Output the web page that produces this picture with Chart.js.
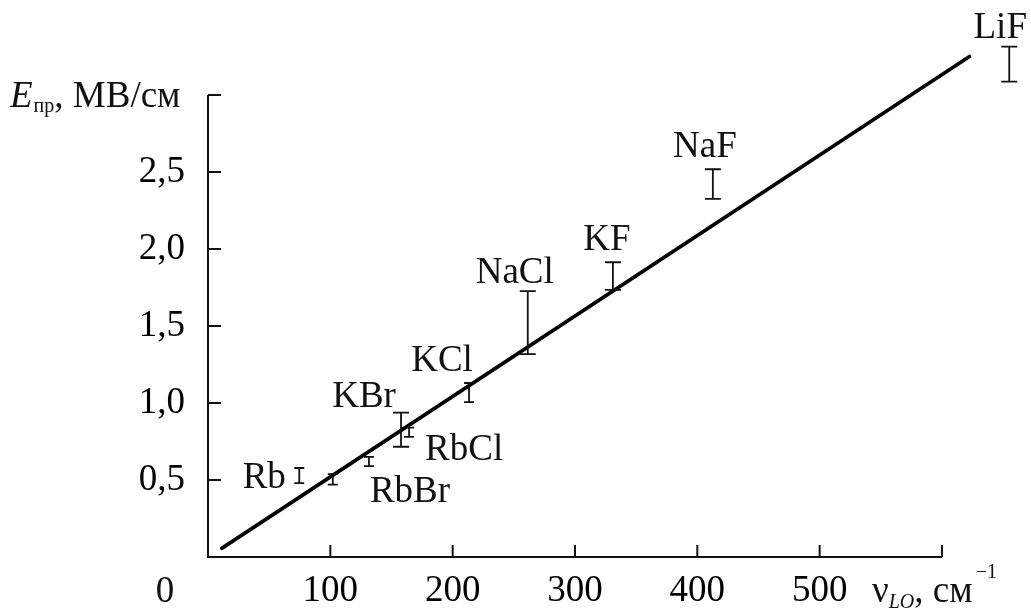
<!DOCTYPE html>
<html>
<head>
<meta charset="utf-8">
<script src="https://cdn.jsdelivr.net/npm/chart.js@4/dist/chart.umd.min.js"></script>
<style>
  html, body { margin: 0; padding: 0; background: #fff; }
  #wrap { width: 1031px; height: 612px; }
</style>
</head>
<body>
<div id="wrap"><canvas id="c" width="1031" height="612"></canvas></div>
<script>
// breakdown field vs LO-phonon frequency for alkali halides
const compounds = ["Rb", "", "RbBr", "KBr", "RbCl", "KCl", "NaCl", "KF", "NaF", "LiF"];
const nuLO  = [74.6, 102, 131.6, 157.8, 164.4, 213.4, 261.4, 331, 412.7, 655];
const eLow  = [0.48, 0.47, 0.59, 0.716, 0.78, 1.006, 1.318, 1.734, 2.325, 3.087];
const eHigh = [0.578, 0.538, 0.65, 0.937, 0.84, 1.13, 1.727, 1.914, 2.518, 3.314];

// straight-line fit drawn across the data
const fitX = [11.2, 622.5];
const fitY = [0.056, 3.25];

const xTicks = [100, 200, 300, 400, 500];
const yTicks = [0.5, 1.0, 1.5, 2.0, 2.5];
const X_END = 600, Y_END = 3.0;

// where each name sits relative to the top of its bar (px)
const labelOffset = {
  Rb: [-35, 20], RbBr: [41, 45], KBr: [-37, -6], RbCl: [55, 32], KCl: [-27, -12],
  NaCl: [-13, -8], KF: [-6, -12], NaF: [-8, -12], LiF: [-9, -9],
};

const FONT = "'Liberation Serif', 'DejaVu Serif', serif";
const INK = "#111";

const decoPlugin = {
  id: "deco",
  afterDatasetsDraw(chart) {
    const { ctx, scales: { x, y } } = chart;
    ctx.save();
    ctx.strokeStyle = INK; ctx.fillStyle = INK;

    // axes only span 0..600 and 0..3
    const x0 = x.getPixelForValue(0), x1 = x.getPixelForValue(X_END);
    const y0 = y.getPixelForValue(0), y1 = y.getPixelForValue(Y_END);
    ctx.lineWidth = 2;
    ctx.beginPath();
    ctx.moveTo(x0, y1); ctx.lineTo(x0, y0); ctx.lineTo(x1, y0);
    x.ticks.forEach((t) => {
      if (t.value > 0 && t.value <= X_END) { const px = x.getPixelForValue(t.value); ctx.moveTo(px, y0); ctx.lineTo(px, y0 - 12); }
    });
    y.ticks.forEach((t) => {
      if (t.value > 0 && t.value <= Y_END) { const py = y.getPixelForValue(t.value); ctx.moveTo(x0, py); ctx.lineTo(x0 + 13, py); }
    });
    ctx.stroke();

    // error bars
    ctx.lineWidth = 1.8;
    nuLO.forEach((v, i) => {
      const px = x.getPixelForValue(v), pl = y.getPixelForValue(eLow[i]), ph = y.getPixelForValue(eHigh[i]);
      const cap = pl - ph < 20 ? 5 : 8;
      ctx.beginPath();
      ctx.moveTo(px, ph); ctx.lineTo(px, pl);
      ctx.moveTo(px - cap, ph); ctx.lineTo(px + cap, ph);
      ctx.moveTo(px - cap, pl); ctx.lineTo(px + cap, pl);
      ctx.stroke();
    });

    // compound names
    ctx.font = `37px ${FONT}`;
    ctx.textAlign = "center"; ctx.textBaseline = "alphabetic";
    compounds.forEach((name, i) => {
      if (!name) return;
      const [dx, dy] = labelOffset[name];
      ctx.fillText(name, x.getPixelForValue(nuLO[i]) + dx, y.getPixelForValue(eHigh[i]) + dy);
    });

    // origin label
    ctx.fillText("0", x0 - 43, 602);

    // y title: E_пр, МВ/см
    ctx.textAlign = "left";
    ctx.font = `italic 37px ${FONT}`;
    ctx.fillText("E", 10, 107);
    let cx = 10 + ctx.measureText("E").width;
    ctx.font = `20px ${FONT}`;
    ctx.fillText("пр", cx + 1, 112);
    cx += 1 + ctx.measureText("пр").width;
    ctx.font = `37px ${FONT}`;
    ctx.fillText(", МВ/см", cx, 107);

    // x title: ν_LO, см^-1
    let tx = 872;
    ctx.font = `37px ${FONT}`;
    ctx.fillText("ν", tx, 602);
    tx += ctx.measureText("ν").width;
    ctx.font = `italic 20px ${FONT}`;
    ctx.fillText("LO", tx, 608);
    tx += ctx.measureText("LO").width;
    ctx.font = `37px ${FONT}`;
    ctx.fillText(", см", tx, 602);
    tx += ctx.measureText(", см").width;
    ctx.font = `20px ${FONT}`;
    ctx.fillText("−1", tx + 3, 578);
    ctx.restore();
  },
};

const noPad = (s) => { s.paddingTop = 0; s.paddingBottom = 0; s.paddingLeft = 0; s.paddingRight = 0; };

new Chart(document.getElementById("c"), {
  type: "scatter",
  data: {
    datasets: [{
      data: fitX.map((v, i) => ({ x: v, y: fitY[i] })),
      showLine: true, borderColor: "#000", borderWidth: 3.6, pointRadius: 0, borderCapStyle: "round",
    }],
  },
  options: {
    responsive: false, animation: false, devicePixelRatio: 1,
    layout: { padding: { top: 2.6, right: 3.4, left: 0, bottom: 0 } },
    plugins: { legend: { display: false }, tooltip: { enabled: false } },
    scales: {
      x: {
        type: "linear", min: 0, max: 670,
        afterFit: (s) => { s.height = 55; noPad(s); },
        grid: { display: false, drawTicks: false }, border: { display: false },
        afterBuildTicks: (s) => { s.ticks = xTicks.concat([X_END]).map((v) => ({ value: v })); },
        ticks: { color: "#000", padding: 12, font: { family: FONT, size: 37 }, maxRotation: 0, autoSkip: false,
          callback: (v) => (xTicks.includes(v) ? String(v) : "") },
      },
      y: {
        type: "linear", min: 0, max: 3.6,
        afterFit: (s) => { s.width = 208; noPad(s); },
        grid: { display: false, drawTicks: false }, border: { display: false },
        afterBuildTicks: (s) => { s.ticks = yTicks.concat([Y_END]).map((v) => ({ value: v })); },
        ticks: { color: "#000", padding: 23, font: { family: FONT, size: 37 }, autoSkip: false,
          callback: (v) => (yTicks.includes(v) ? v.toFixed(1).replace(".", ",") : "") },
      },
    },
  },
  plugins: [decoPlugin],
});
</script>
</body>
</html>
